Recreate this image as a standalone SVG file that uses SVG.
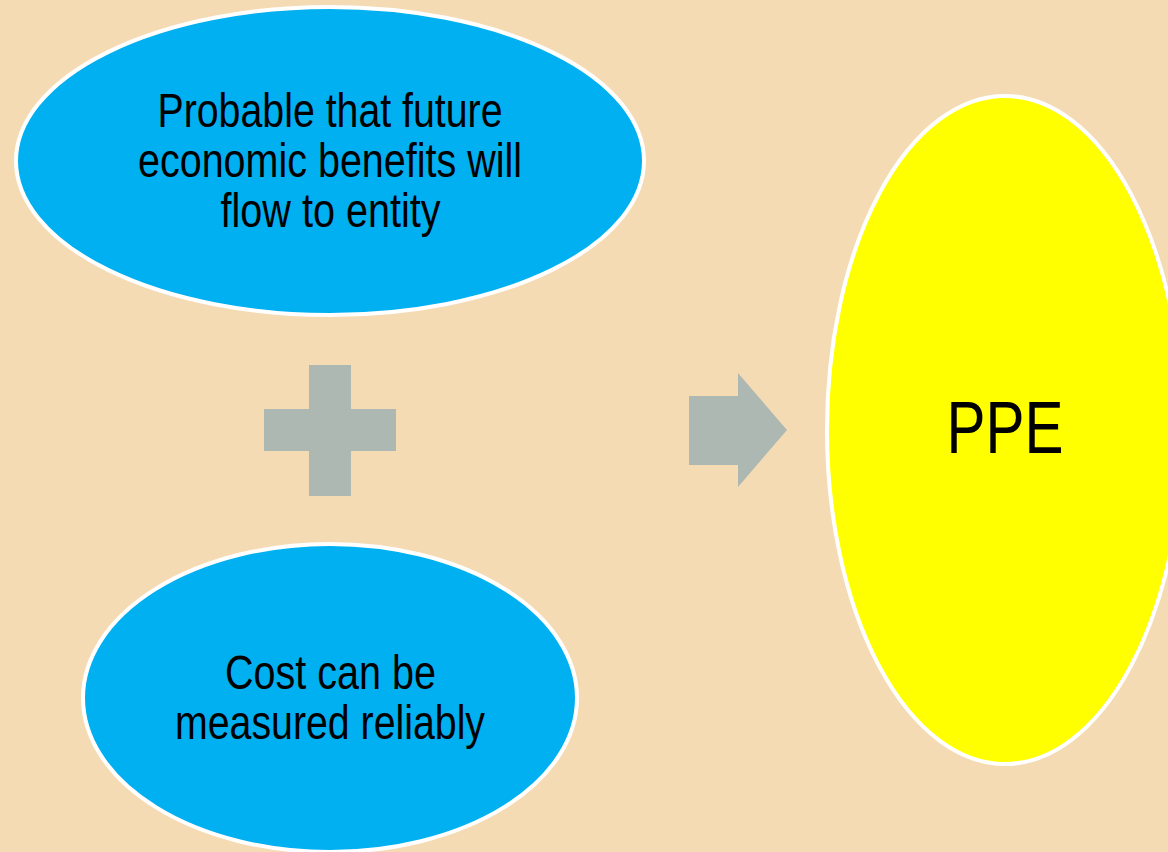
<svg xmlns="http://www.w3.org/2000/svg" width="1168" height="852" viewBox="0 0 1168 852">
  <style>
    .bg { fill: #F5DBB4; }
    .blue { fill: #00B0F0; stroke: #FFFFFF; stroke-width: 4; }
    .yellow { fill: #FFFF00; stroke: #FFFFFF; stroke-width: 4; }
    .op { fill: #ADB8B3; }
    .lbl { font-family: "Liberation Sans", Arial, sans-serif; fill: #000000; text-anchor: middle; }
  </style>
  <rect class="bg" x="0" y="0" width="1168" height="852"/>
  <g id="node-probable">
    <ellipse class="blue" cx="330" cy="161" rx="314" ry="154"/>
    <text class="lbl" font-size="48" x="330" y="126.5" textLength="345" lengthAdjust="spacingAndGlyphs">Probable that future</text>
    <text class="lbl" font-size="48" x="330" y="176.5" textLength="384" lengthAdjust="spacingAndGlyphs">economic benefits will</text>
    <text class="lbl" font-size="48" x="330.5" y="226.5" textLength="220" lengthAdjust="spacingAndGlyphs">flow to entity</text>
  </g>
  <g id="node-cost">
    <ellipse class="blue" cx="330" cy="698" rx="247" ry="154"/>
    <text class="lbl" font-size="48" x="330.5" y="689" textLength="211" lengthAdjust="spacingAndGlyphs">Cost can be</text>
    <text class="lbl" font-size="48" x="330" y="739" textLength="310" lengthAdjust="spacingAndGlyphs">measured reliably</text>
  </g>
  <g id="node-ppe">
    <ellipse class="yellow" cx="1005" cy="430" rx="178" ry="334"/>
    <text class="lbl" font-size="74" x="1005" y="453" textLength="117" lengthAdjust="spacingAndGlyphs">PPE</text>
  </g>
  <g id="connectors">
    <path id="plus" class="op" d="M309,365 H351 V409 H396 V451 H351 V496 H309 V451 H264 V409 H309 Z"/>
    <path id="arrow" class="op" d="M689,396 H738 V373 L787,430 L738,487 V465 H689 Z"/>
  </g>
</svg>
